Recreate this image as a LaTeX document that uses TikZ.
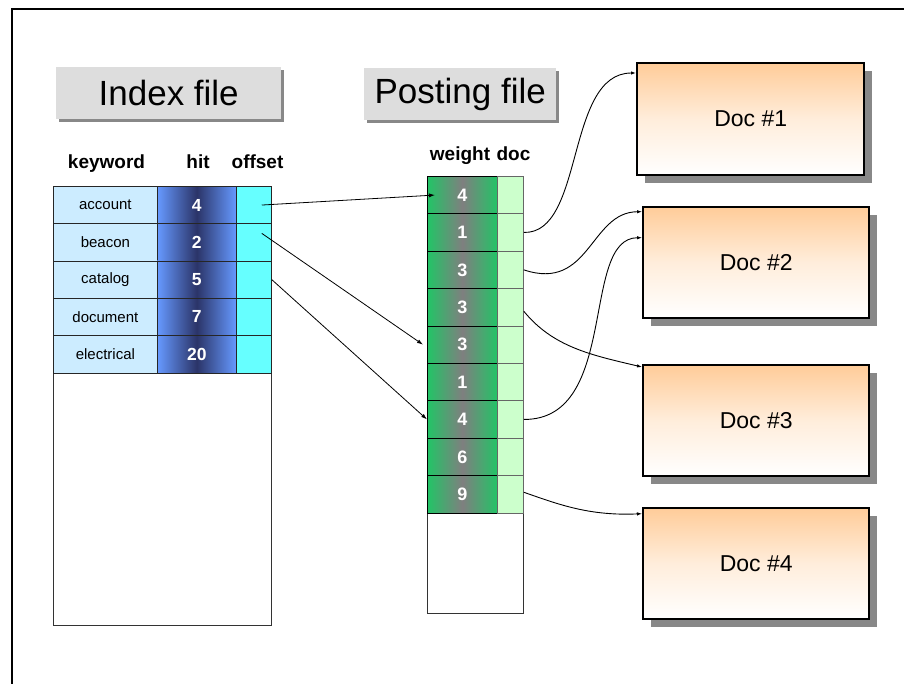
\documentclass[tikz,border=0pt]{standalone}
\usepackage{fontspec}
\setmainfont{Liberation Sans}
\usetikzlibrary{shadows,arrows.meta}

\definecolor{keyblue}{HTML}{CCECFF}
\definecolor{hitedge}{HTML}{6699FF}
\definecolor{hitmid}{HTML}{2B3468}
\definecolor{offcyan}{HTML}{66FFFF}
\definecolor{wgreen}{HTML}{22C466}
\definecolor{wgray}{HTML}{7F7F7F}
\definecolor{docgreen}{HTML}{CCFFCC}
\definecolor{docorange}{HTML}{FFCC99}
\definecolor{titlegray}{HTML}{DDDDDD}
\definecolor{shadowgray}{HTML}{888888}

\begin{document}
\begin{tikzpicture}[x=1pt,y=-1pt,
  cell/.style={draw=black!85, line width=0.8pt, minimum height=37.3pt,
    inner sep=0pt, anchor=north west},
  keycell/.style={cell, fill=keyblue, minimum width=104pt,
    font=\fontsize{15}{17}\selectfont},
  hitcell/.style={cell, minimum width=78.7pt,
    left color=hitedge, right color=hitedge, middle color=hitmid,
    text=white, font=\fontsize{17.5}{19}\selectfont\bfseries},
  offcell/.style={cell, fill=offcyan, minimum width=35.3pt},
  wcell/.style={cell, draw=black, minimum width=70pt,
    left color=wgreen, right color=wgreen, middle color=wgray,
    text=white, font=\fontsize{18}{20}\selectfont\bfseries},
  dcell/.style={cell, draw=black!60, fill=docgreen, minimum width=26pt},
  blank/.style={draw=black!80, line width=0.8pt, fill=white, inner sep=0pt,
    anchor=north west},
  header/.style={font=\fontsize{19}{22}\selectfont\bfseries, anchor=base},
  titlebox/.style={fill=titlegray, inner sep=0pt, anchor=north west,
    font=\fontsize{35}{38}\selectfont,
    drop shadow={shadow xshift=3pt, shadow yshift=-3pt, fill=shadowgray, opacity=1}},
  docbox/.style={draw=black, line width=2.4pt, anchor=north west, inner sep=0pt,
    top color=docorange, bottom color=white, middle color=docorange!35,
    minimum width=227pt, minimum height=112pt,
    font=\fontsize{23}{26}\selectfont,
    drop shadow={shadow xshift=8pt, shadow yshift=-8pt, fill=shadowgray, opacity=1}},
  link/.style={draw=black, line width=0.8pt, -{Latex[length=6pt,width=4pt]}},
  curvelink/.style={draw=black, line width=0.9pt, -{Latex[length=5pt,width=3.5pt]}}
]
\useasboundingbox (0,0) rectangle (904,684);

% outer frame (top and left edges)
\draw[line width=2pt] (12,684) -- (12,9) -- (904,9);

% titles
\node[titlebox, minimum width=225pt, minimum height=52pt] (idxtitle) at (56,67) {Index file};
\node[titlebox, minimum width=192pt, minimum height=52pt] (posttitle) at (364,68) {Posting file};

% column headers
\node[header] (hkey) at (106.5,169) {keyword};
\node[header] (hhit) at (198,169) {hit};
\node[header] (hoff) at (257.5,169) {offset};
\node[header] (hweight) at (460,161) {weight};
\node[header] (hdoc) at (513.5,161) {doc};

% index file table
\node[blank, minimum width=218pt, minimum height=253pt] (idxrest) at (53,372.3) {};
\foreach \i/\kw/\h in {1/account/4, 2/beacon/2, 3/catalog/5, 4/document/7, 5/electrical/20} {
  \node[keycell] (k\i) at (53,{186+37.3*(\i-1)}) {\kw};
  \node[hitcell] (h\i) at (157,{186+37.3*(\i-1)}) {\h};
  \node[offcell] (o\i) at (235.7,{186+37.3*(\i-1)}) {};
}

% posting file table
\node[blank, minimum width=96pt, minimum height=100pt] (postrest) at (427,512.7) {};
\foreach \i/\w in {1/4, 2/1, 3/3, 4/3, 5/3, 6/1, 7/4, 8/6, 9/9} {
  \node[wcell] (w\i) at (427,{176+37.4*(\i-1)}) {\w};
  \node[dcell] (d\i) at (497,{176+37.4*(\i-1)}) {};
}

% documents
\node[docbox, minimum width=227pt] (doc1) at (636,62) {Doc \#1};
\node[docbox, minimum width=226pt, minimum height=111pt] (doc2) at (642,205.7) {Doc \#2};
\node[docbox, minimum width=226pt, minimum height=111pt] (doc3) at (642,364) {Doc \#3};
\node[docbox, minimum width=226pt, minimum height=111pt] (doc4) at (642,506.7) {Doc \#4};

% offsets into the posting file
\draw[link] ([xshift=8pt]o1.center) -- ([xshift=8pt]w1.west);
\draw[link] ([xshift=8pt,yshift=9pt]o2.center) -- ([xshift=-4pt]w5.west);
\draw[link] (o3.east) -- (w7.west);

% postings pointing to documents
\draw[curvelink] (d2.east) .. controls (585,234) and (565,73) .. ([yshift=-11pt]doc1.north west);
\draw[curvelink] (d3.east) .. controls (590,292) and (590,212) .. ([yshift=-6pt]doc2.north west);
\draw[curvelink] ([yshift=-4pt]d4.east) .. controls (553,347) and (591,355) .. ([yshift=-3pt]doc3.north west);
\draw[curvelink] (d7.east) .. controls (620,420) and (580,238) .. ([yshift=-32pt]doc2.north west);
\draw[curvelink] ([yshift=2pt]d9.east) .. controls (560,505) and (590,516) .. ([yshift=-7pt]doc4.north west);
\end{tikzpicture}
\end{document}
